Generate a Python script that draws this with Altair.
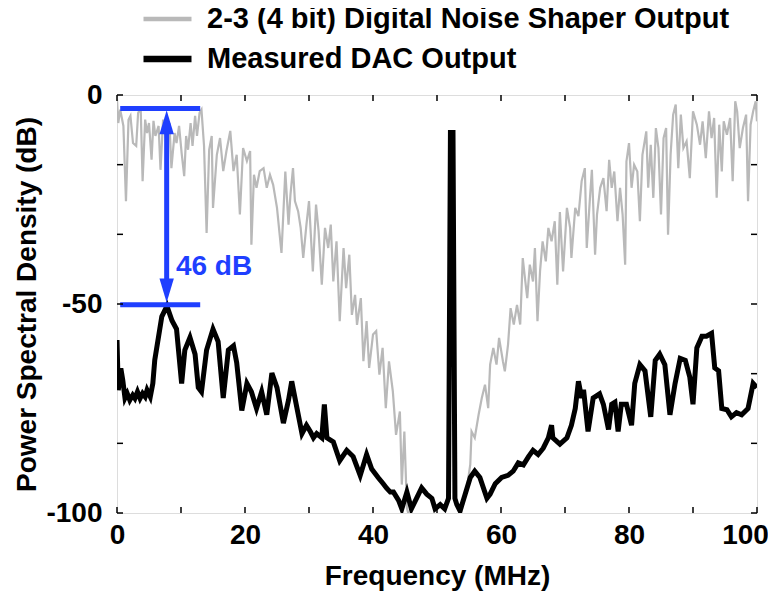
import altair as alt
import pandas as pd

# ---------------- data ----------------
series_names = ["2-3 (4 bit) Digital Noise Shaper Output", "Measured DAC Output"]

shaper_freq = [0.0, 0.2, 0.5, 1.0, 1.4, 1.8, 2.1, 2.5, 3.0, 3.3, 3.7, 4.0, 4.4, 4.7, 5.0, 5.4, 5.7, 6.0,
               6.5, 6.8, 7.2, 7.7, 8.2, 8.5, 9.0, 9.3, 9.7, 10.1, 10.5, 10.8, 11.1, 11.5, 11.8, 12.2,
               12.5, 12.9, 13.2, 13.6, 14.0, 14.4, 14.8, 15.0, 15.6, 16.1, 16.6, 17.1, 17.7, 18.2,
               18.7, 19.2, 19.7, 20.3, 20.8, 21.0, 21.4, 21.8, 22.3, 22.9, 23.4, 23.9, 24.4, 25.0,
               25.7, 26.3, 26.8, 27.1, 27.5, 27.8, 28.3, 28.7, 29.1, 29.6, 30.0, 30.6, 31.1, 31.5,
               32.0, 32.5, 33.0, 33.4, 33.8, 34.3, 34.8, 35.4, 35.8, 36.3, 36.7, 37.2, 37.5, 38.1,
               38.5, 39.0, 39.4, 40.0, 40.5, 41.0, 41.5, 42.0, 42.5, 43.1, 43.6, 44.2, 44.5, 44.9,
               45.3, 46.0, 47.5, 49.0, 50.5, 52.0, 53.2, 53.9, 54.6, 55.2, 55.4, 55.9, 56.5, 57.0,
               57.5, 58.0, 58.3, 58.8, 59.3, 59.7, 60.3, 60.6, 61.1, 61.5, 62.0, 62.5, 63.0, 63.4,
               63.8, 64.1, 64.5, 65.0, 65.3, 65.7, 66.1, 66.5, 67.0, 67.4, 67.9, 68.4, 68.8, 69.2,
               69.7, 70.3, 70.8, 71.0, 71.6, 72.1, 72.6, 73.1, 73.4, 73.9, 74.2, 74.7, 75.0, 75.5,
               76.0, 76.5, 76.9, 77.3, 77.7, 78.2, 78.6, 79.0, 79.4, 79.6, 80.0, 80.4, 80.8, 81.3,
               81.7, 82.1, 82.7, 83.0, 83.4, 83.8, 84.2, 84.6, 85.0, 85.4, 85.8, 86.1, 86.5, 86.9,
               87.3, 87.7, 88.1, 88.5, 89.0, 89.5, 90.0, 90.6, 91.1, 91.5, 92.0, 92.5, 92.9, 93.3,
               93.7, 94.1, 94.5, 94.8, 95.3, 95.8, 96.2, 96.6, 96.9, 97.3, 97.8, 98.3, 98.6, 99.0,
               99.4, 99.8, 100.0]
shaper_db = [-1.1, -6.7, -3.5, -7.4, -25.4, -5.9, -5.0, -11.5, -12.2, -4.3, -3.1, -20.6, -5.9, -9.1,
             -6.7, -15.5, -6.2, -9.8, -7.4, -17.9, -5.9, -10.7, -6.7, -17.5, -9.1, -11.5, -7.4, -13.9,
             -19.4, -9.8, -13.1, -6.7, -12.2, -5.0, -9.8, -4.3, -3.5, -12.2, -33.0, -13.1, -9.8, -27.0,
             -14.3, -10.3, -18.2, -13.4, -8.6, -18.2, -14.3, -28.6, -12.7, -15.8, -13.4, -35.8, -19.1,
             -22.2, -18.2, -17.5, -22.2, -19.1, -21.5, -27.0, -37.8, -18.3, -31.0, -23.9, -17.5, -25.4,
             -27.8, -31.8, -39.0, -31.0, -25.4, -42.2, -26.2, -32.6, -45.4, -31.8, -36.6, -31.0, -44.6,
             -35.0, -54.1, -36.6, -46.2, -38.2, -52.6, -47.8, -55.0, -48.6, -63.7, -54.1, -65.3, -57.3,
             -56.5, -66.9, -60.5, -74.9, -63.7, -70.9, -81.3, -75.7, -93.2, -80.5, -98.8, -103.0,
             -104.0, -104.0, -103.5, -104.0, -103.0, -99.2, -94.8, -88.4, -80.5, -82.0, -76.5, -72.5,
             -69.3, -74.9, -64.5, -60.5, -64.5, -58.1, -63.7, -66.1, -59.7, -51.0, -54.9, -50.2, -54.9,
             -39.0, -44.6, -48.6, -40.6, -44.6, -36.6, -54.1, -42.2, -35.0, -39.8, -31.8, -35.0, -30.2,
             -45.4, -28.0, -42.2, -27.0, -31.8, -39.0, -27.0, -29.0, -20.6, -17.5, -36.6, -24.6, -17.9,
             -38.2, -28.6, -22.2, -19.9, -27.8, -15.5, -22.2, -18.3, -30.2, -22.2, -28.6, -40.6, -15.9,
             -11.5, -22.2, -16.7, -18.3, -30.2, -14.3, -8.7, -22.2, -11.9, -24.6, -7.9, -12.7, -28.6,
             -10.3, -7.9, -33.4, -14.3, -4.7, -2.3, -17.5, -4.7, -12.7, -11.1, -19.9, -3.9, -7.1, -11.9,
             -6.3, -15.1, -3.9, -10.3, -5.5, -24.6, -7.1, -18.3, -6.3, -9.5, -5.5, -20.6, -1.5, -3.9,
             -12.7, -7.9, -4.7, -25.4, -7.1, -3.9, -1.5, -6.3]

dac_freq = [0.0, 0.2, 0.6, 0.9, 1.25, 1.6, 2.0, 2.45, 2.8, 3.2, 3.6, 4.0, 4.4, 4.7, 5.2, 5.6, 5.9,
            7.0, 7.8, 8.6, 9.3, 10.1, 10.6,
            11.4, 12.2, 12.7, 13.2, 14.0, 15.0, 15.8, 16.6, 17.4, 18.2, 18.7, 19.5, 20.3, 21.0, 21.8,
            22.6, 23.4, 24.2, 25.0, 26.0, 26.8, 27.3, 28.0, 28.9, 29.6, 30.2, 30.7, 31.2, 32.0, 32.4,
            32.8, 33.8, 34.8, 35.9, 36.9, 38.0, 39.0, 39.8, 40.8, 41.6, 42.1, 42.7, 43.2, 44.0, 44.5,
            45.3, 46.0, 46.8, 47.6, 48.4, 49.2, 49.7, 50.5, 51.2, 51.8, 52.1, 52.5, 52.8, 53.1, 53.6,
            54.4, 55.2, 55.9, 56.7, 57.8, 58.3, 59.1, 60.1, 61.1, 61.9, 62.7, 63.5, 64.3, 65.0, 65.8,
            66.6, 67.4, 67.9, 68.1, 69.2, 70.3, 71.0, 71.6, 72.1, 72.6, 72.9, 73.6, 74.4, 75.4, 76.0,
            76.8, 77.3, 77.8, 78.3, 78.8, 79.6, 80.4, 80.9, 81.7, 82.5, 83.4, 84.1, 84.8, 85.6, 86.4,
            87.2, 88.0, 88.8, 89.5, 90.0, 90.6, 91.4, 92.1, 92.9, 93.4, 94.0, 94.5, 95.3, 96.0, 96.8,
            97.6, 98.6, 99.4, 100.0]
dac_db = [-58.6, -70.6, -65.4, -68.2, -72.5, -71.4, -73.0, -71.8, -72.6, -71.0, -72.6, -71.4, -72.2,
          -70.6, -72.2, -69.0, -63.4, -53.0,
          -50.5, -54.0, -56.0, -69.0, -61.0, -58.0, -62.0, -70.0, -71.0, -61.0, -56.0, -59.0, -72.5,
          -61.0, -60.0, -64.0, -75.5, -69.0, -71.0, -75.0, -71.0, -76.5, -66.5, -70.0, -78.5, -73.0,
          -68.5, -74.0, -81.0, -79.0, -80.5, -82.0, -81.0, -82.0, -74.0, -82.0, -83.0, -87.5, -85.0,
          -86.5, -91.0, -86.0, -89.5, -91.5, -93.0, -94.0, -95.0, -95.0, -97.0, -99.0, -95.0, -99.0,
          -96.5, -94.0, -95.5, -96.5, -99.0, -98.0, -99.0, -96.5, -9.0, -9.0, -96.5, -98.0, -99.5,
          -95.5, -91.5, -90.0, -91.5, -96.5, -95.5, -93.0, -91.5, -91.0, -90.0, -88.0, -88.5, -86.5,
          -85.0, -86.0, -84.5, -82.0, -79.0, -82.0, -83.5, -82.0, -79.0, -75.0, -68.5, -72.5, -70.5,
          -80.5, -72.5, -71.5, -74.0, -80.0, -74.0, -73.5, -80.5, -74.0, -74.0, -79.0, -69.0, -64.5,
          -66.0, -77.0, -63.5, -62.0, -64.5, -76.5, -69.0, -63.0, -63.5, -67.5, -74.0, -60.5, -57.7,
          -57.7, -57.0, -65.3, -66.0, -75.0, -75.3, -77.0, -76.0, -76.5, -75.0, -69.0, -70.0]

x_tick_values = [0, 10, 20, 30, 40, 50, 60, 70, 80, 90, 100]
x_label_values = [0, 20, 40, 60, 80, 100]
y_tick_values = [0, -50 / 3, -100 / 3, -50, -200 / 3, -250 / 3, -100]
y_label_values = [-100, -50, 0]

# annotation: 46 dB gap between shaper out-of-band level and measured DAC peak
bracket_top_db = -3.2
bracket_bottom_db = -50.2
bracket_x_start = 0.5
bracket_x_end = 13.0
arrow_x = 7.76
arrowhead_db = [-6.5, -46.8]
arrowhead_shapes = ["M0,-1L0.6,1L-0.6,1Z", "M0,1L0.6,-1L-0.6,-1Z"]
label_text = ["46 dB"]
label_x = [9.2]
label_db = [-41.1]

# ---------------- styling ----------------
FONT = "Liberation Sans, Arial, Helvetica, sans-serif"
GRAY = "#b9b9b9"
BLUE = "#1f3fff"
W, H = 640, 418

shaper = pd.DataFrame({"f": shaper_freq, "db": shaper_db, "series": series_names[0]})
dac = pd.DataFrame({"f": dac_freq, "db": dac_db, "series": series_names[1]})

xscale = alt.Scale(domain=[0, 100], nice=False, zero=False)
yscale = alt.Scale(domain=[-100, 0], nice=False, zero=False)

x_enc = alt.X("f:Q", scale=xscale, axis=alt.Axis(
    values=x_label_values, title="Frequency (MHz)", ticks=False, domain=False, grid=False,
    labelFontSize=28, labelFont=FONT, labelFontWeight="bold", labelColor="black", labelPadding=8,
    labelOffset=alt.condition("datum.value == 100", alt.value(-12), alt.value(0)),
    titleFontSize=28, titleFont=FONT, titleFontWeight="bold", titleColor="black", titlePadding=13,
    labelFlush=False))
y_enc = alt.Y("db:Q", scale=yscale, axis=alt.Axis(
    values=y_label_values, title="Power Spectral Density (dB)", ticks=False, domain=False, grid=False,
    labelExpr="'' + datum.value",
    labelFontSize=28, labelFont=FONT, labelFontWeight="bold", labelColor="black", labelPadding=15,
    titleFontSize=28, titleFont=FONT, titleFontWeight="bold", titleColor="black", titlePadding=4,
    titleLimit=1000, labelFlush=False))

legend = alt.Legend(
    title=None, orient="none", legendX=23, legendY=-96, padding=0,
    symbolType="stroke", symbolSize=2304, clipHeight=40, rowPadding=0,
    labelFontSize=29, labelFont=FONT, labelFontWeight="bold",
    labelColor="black", labelLimit=1000, labelOffset=12)
color_scale = alt.Scale(domain=series_names, range=[GRAY, "black"])

gray_line = alt.Chart(shaper).mark_line(clip=True, strokeJoin="miter", strokeWidth=2.2).encode(
    x=x_enc, y=y_enc, color=alt.Color("series:N", scale=color_scale, legend=legend))
black_line = alt.Chart(dac).mark_line(clip=True, strokeJoin="miter", strokeWidth=5).encode(
    x="f:Q", y="db:Q", color=alt.Color("series:N", scale=color_scale, legend=legend))
# legend-only layer (no rows): gives the legend its per-series stroke widths
legend_key = alt.Chart(dac).transform_filter("false").mark_line(strokeCap="round").encode(
    x="f:Q", y="db:Q",
    color=alt.Color("series:N", scale=color_scale, legend=legend),
    strokeWidth=alt.StrokeWidth("series:N", scale=alt.Scale(domain=series_names, range=[4.5, 6.5]),
                                legend=legend))

# inward ticks on all four sides
xt = pd.DataFrame({"f": x_tick_values})
yt = pd.DataFrame({"db": y_tick_values})
tick_style = dict(color="black", strokeWidth=1.5)
x_ticks_bottom = alt.Chart(xt).mark_rule(**tick_style).encode(x="f:Q", y=alt.value(H), y2=alt.value(H - 6))
x_ticks_top = alt.Chart(xt).mark_rule(**tick_style).encode(x="f:Q", y=alt.value(0), y2=alt.value(6))
y_ticks_left = alt.Chart(yt).mark_rule(**tick_style).encode(y="db:Q", x=alt.value(0), x2=alt.value(6))
y_ticks_right = alt.Chart(yt).mark_rule(**tick_style).encode(y="db:Q", x=alt.value(W), x2=alt.value(W - 6))

# blue annotation
hl = pd.DataFrame({"x1": [bracket_x_start] * 2, "x2": [bracket_x_end] * 2,
                   "db": [bracket_top_db, bracket_bottom_db]})
hlines = alt.Chart(hl).mark_rule(color=BLUE, strokeWidth=5).encode(x="x1:Q", x2="x2:Q", y="db:Q")
shaft_df = pd.DataFrame({"f": [arrow_x], "y1": [arrowhead_db[0]], "y2": [arrowhead_db[1]]})
shaft = alt.Chart(shaft_df).mark_rule(color=BLUE, strokeWidth=5).encode(x="f:Q", y="y1:Q", y2="y2:Q")
heads_df = pd.DataFrame({"f": [arrow_x] * 2, "db": arrowhead_db, "shape": arrowhead_shapes})
heads = alt.Chart(heads_df).mark_point(filled=True, color=BLUE, opacity=1, size=576).encode(
    x="f:Q", y="db:Q", shape=alt.Shape("shape:N", scale=None))
lab_df = pd.DataFrame({"f": label_x, "db": label_db, "t": label_text})
label = alt.Chart(lab_df).mark_text(align="left", baseline="middle", color=BLUE, fontSize=28,
                                    font=FONT, fontWeight="bold").encode(x="f:Q", y="db:Q", text="t:N")

chart = alt.layer(
    gray_line, black_line, legend_key, hlines, shaft, heads, label,
    x_ticks_bottom, x_ticks_top, y_ticks_left, y_ticks_right,
).properties(
    width=W, height=H,
    autosize=alt.AutoSizeParams(type="none"),
    padding={"left": 109, "top": 87, "right": 11, "bottom": 78},
).configure_view(
    stroke="black", strokeWidth=2
).configure(background="white")

chart.save("out.html", embed_options={"renderer": "svg", "actions": False})
